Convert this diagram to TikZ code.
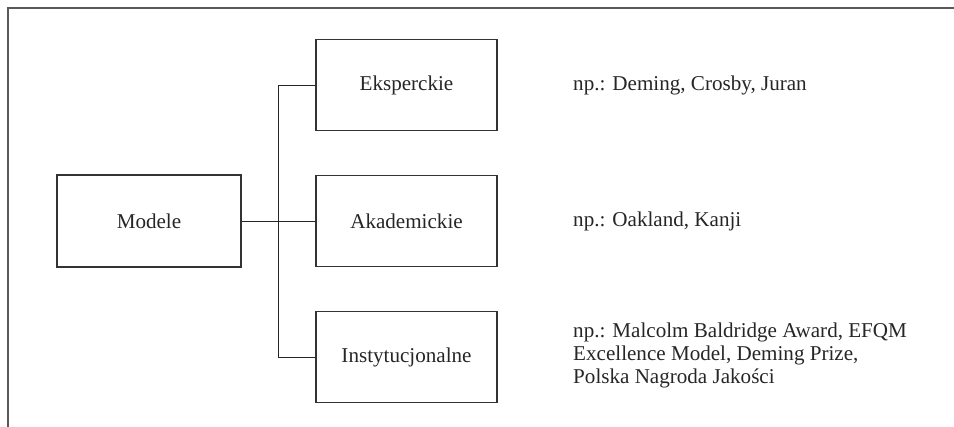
\documentclass[tikz,border=0pt]{standalone}
\usepackage{fontspec}
\setmainfont{Liberation Serif}
\usepackage{tikz}

\begin{document}
\begin{tikzpicture}[every node/.style={font=\fontsize{18}{19.6}\selectfont, text=black!85},
  box/.style={draw=black!80, line width=0.9pt, minimum height=2.72cm},
  note/.style={anchor=west, align=left, inner xsep=0pt}]
  \useasboundingbox (0,0) rectangle (28.62,-12.81);
  % frame (cut off at the right and bottom)
  \draw[black!65, line width=1.6pt] (0.25,-12.81) -- (0.25,-0.25) -- (28.62,-0.25);
  \node[box, minimum width=5.52cm, minimum height=2.76cm] (modele) at (4.47,-6.63) {Modele};
  \node[box, minimum width=5.43cm] (eksp) at (12.195,-2.55) {Eksperckie};
  \node[box, minimum width=5.43cm] (akad) at (12.195,-6.63) {Akademickie};
  \node[box, minimum width=5.43cm] (inst) at (12.195,-10.71) {Instytucjonalne};
  \coordinate (trunk) at (8.36,-6.63);
  \draw[black!85, line width=0.8pt] (modele) -- (akad);
  \draw[black!85, line width=0.8pt] (eksp.west) -| (trunk) |- (inst.west);
  \node[note] (t1) at (17.19,-2.55) {np.: Deming, Crosby, Juran};
  \node[note] (t2) at (17.19,-6.63) {np.: Oakland, Kanji};
  \node[note] (t3) at (17.19,-10.65) {np.: Malcolm Baldridge Award, EFQM\\Excellence Model, Deming Prize,\\Polska Nagroda Jakości};
\end{tikzpicture}
\end{document}
